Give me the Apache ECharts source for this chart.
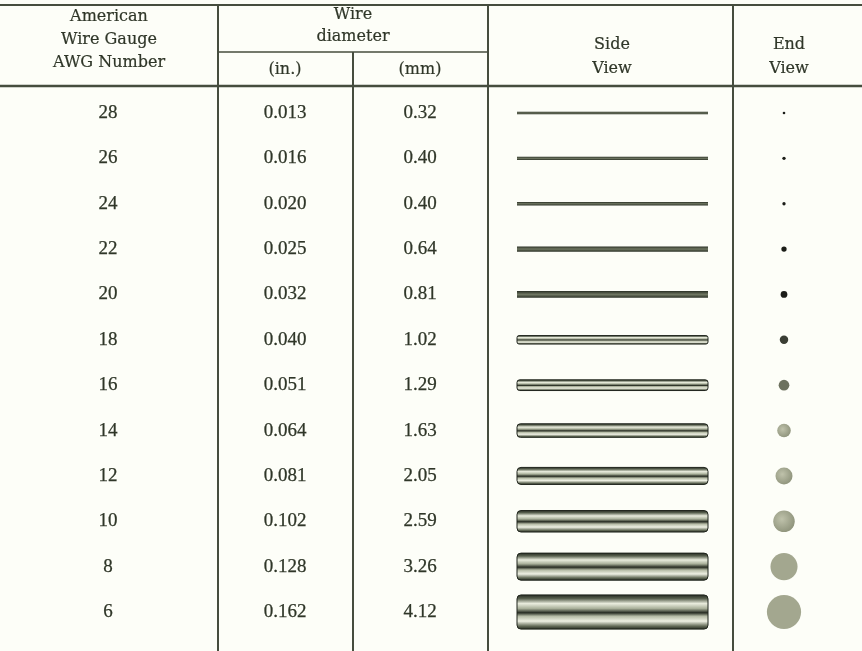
<!DOCTYPE html>
<html>
<head>
<meta charset="utf-8">
<script src="https://cdn.jsdelivr.net/npm/echarts@6/dist/echarts.min.js"></script>
<style>
  html, body { margin: 0; padding: 0; background: #fdfef8; }
  #main_container { width: 862px; height: 651px; }
</style>
</head>
<body>
<div id="main_container"></div>
<script>
// table data
var awgNumbers = ["28", "26", "24", "22", "20", "18", "16", "14", "12", "10", "8", "6"];
var diameterIn = ["0.013", "0.016", "0.020", "0.025", "0.032", "0.040", "0.051", "0.064", "0.081", "0.102", "0.128", "0.162"];
var diameterMm = ["0.32", "0.40", "0.40", "0.64", "0.81", "1.02", "1.29", "1.63", "2.05", "2.59", "3.26", "4.12"];

var INK = "#2f3628";
var RULE = "#464d3e";
var PX_PER_MM = 8.3;

var numFont = { fontFamily: "Liberation Serif", fontSize: 19, fill: INK, stroke: INK, lineWidth: 0.25 };
var headFont = { fontFamily: "DejaVu Serif", fontSize: 16, fill: INK, stroke: INK, lineWidth: 0.2 };

function textSeries(values, x) {
  return {
    type: "custom",
    coordinateSystem: "cartesian2d",
    data: values.map(function (v, i) { return [x, i, v]; }),
    renderItem: function (params, api) {
      var p = api.coord([api.value(0), api.value(1)]);
      return {
        type: "text",
        x: p[0], y: p[1],
        style: Object.assign({ text: values[params.dataIndex], align: "center", verticalAlign: "middle" }, numFont)
      };
    }
  };
}

function header(text, x, y, lh) {
  return {
    type: "text", x: x, y: y,
    style: Object.assign({ text: text, align: "center", verticalAlign: "middle", lineHeight: lh || 22 }, headFont)
  };
}

// table rules, drawn as one polyline each
function rule(points, w) {
  return { type: "polyline", z: 10, shape: { points: points }, style: { stroke: RULE, fill: null, lineWidth: w || 2 } };
}

var wireGradient = {
  type: "linear", x: 0, y: 0, x2: 0, y2: 1,
  colorStops: [
    { offset: 0, color: "#1f241c" },
    { offset: 0.12, color: "#59614f" },
    { offset: 0.26, color: "#e9ecdd" },
    { offset: 0.4, color: "#a9b09a" },
    { offset: 0.52, color: "#272c22" },
    { offset: 0.62, color: "#b5bba5" },
    { offset: 0.76, color: "#eef0e3" },
    { offset: 0.9, color: "#646c58" },
    { offset: 1, color: "#1f241c" }
  ]
};

var thinGradient = {
  type: "linear", x: 0, y: 0, x2: 0, y2: 1,
  colorStops: [
    { offset: 0, color: "#2b3126" },
    { offset: 0.5, color: "#6f7762" },
    { offset: 1, color: "#2b3126" }
  ]
};

function dotColor(mm) {
  if (mm < 1) return "#1b1d18";
  if (mm < 1.1) return "#3a3e34";
  if (mm < 1.4) return "#6c715e";
  if (mm < 2.2 || (mm > 2.5 && mm < 2.7)) {
    return {
      type: "radial", x: 0.4, y: 0.4, r: 0.7,
      colorStops: [{ offset: 0, color: "#bfc2ab" }, { offset: 1, color: "#8a8f77" }]
    };
  }
  return "#a3a78f";
}

var myChart = echarts.init(document.getElementById("main_container"));

myChart.setOption({
  backgroundColor: "#fdfef8",
  animation: false,
  grid: { left: 0, right: 0, top: 90.3, bottom: 16.3 },
  xAxis: { type: "value", min: 0, max: 862, show: false },
  yAxis: {
    type: "category",
    data: awgNumbers,
    inverse: true,
    show: false
  },
  graphic: [
    rule([[0, 5], [862, 5]], 2),
    rule([[0, 86], [862, 86]], 2.5),
    rule([[218, 52], [488, 52]], 1.5),
    rule([[218, 5], [218, 651]]),
    rule([[353, 52], [353, 651]]),
    rule([[488, 5], [488, 651]]),
    rule([[733, 5], [733, 651]]),
    header("American\nWire Gauge\nAWG Number", 109, 40, 23),
    header("Wire\ndiameter", 353, 26, 22),
    header("(in.)", 285, 70),
    header("(mm)", 420, 70),
    header("Side\nView", 612, 57, 24),
    header("End\nView", 789, 57, 24)
  ],
  series: [
    textSeries(awgNumbers, 108),
    textSeries(diameterIn, 285),
    textSeries(diameterMm, 420),
    {
      // side view of each wire
      type: "custom",
      coordinateSystem: "cartesian2d",
      data: diameterMm.map(function (v, i) { return [517, 708, i, parseFloat(v)]; }),
      renderItem: function (params, api) {
        var a = api.coord([api.value(0), api.value(2)]);
        var b = api.coord([api.value(1), api.value(2)]);
        var h = Math.max(2, api.value(3) * PX_PER_MM);
        var thin = api.value(3) < 0.9;
        return {
          type: "rect",
          shape: { x: a[0], y: a[1] - h / 2, width: b[0] - a[0], height: h, r: thin ? 0 : Math.min(4, h / 4) },
          style: {
            fill: thin ? thinGradient : wireGradient,
            stroke: thin ? null : "#1f241c",
            lineWidth: thin ? 0 : 1
          }
        };
      }
    },
    {
      // end view of each wire
      type: "scatter",
      symbol: "circle",
      data: diameterMm.map(function (v, i) { return [784, i, parseFloat(v)]; }),
      symbolSize: function (d) { return Math.max(2, d[2] * PX_PER_MM); },
      itemStyle: {
        color: function (p) { return dotColor(p.value[2]); },
        opacity: 1
      }
    }
  ]
});
</script>
</body>
</html>
